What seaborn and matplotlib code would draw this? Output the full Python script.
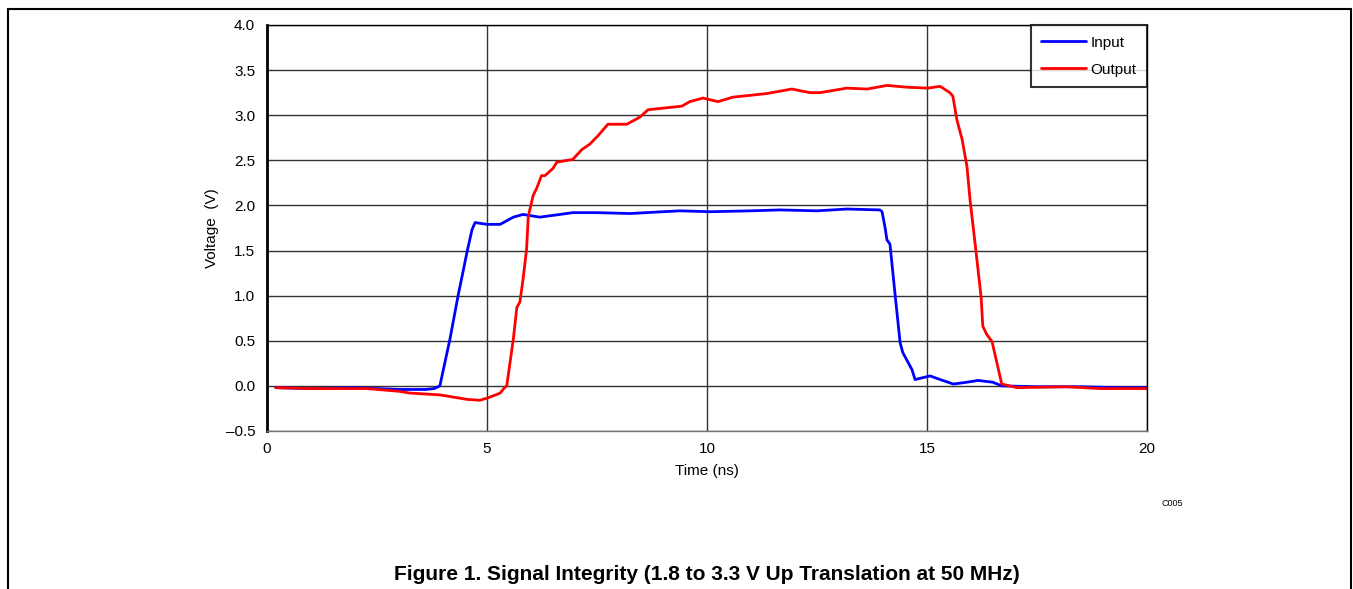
import pandas as pd
import matplotlib.pyplot as plt
import seaborn as sns
from matplotlib.lines import Line2D

# Values (time in ns, voltage in V)
input_t = [0.2, 1.0, 2.0, 3.0, 3.6, 3.8, 3.93, 4.16, 4.34, 4.45, 4.55, 4.66, 4.73,
           5.0, 5.3, 5.6, 5.82, 6.2, 6.66, 6.95, 7.5, 8.25, 9.0, 9.39, 10.07, 11.0,
           11.66, 12.5, 13.18, 13.93, 13.98, 14.05, 14.09, 14.16, 14.27, 14.39, 14.45,
           14.66, 14.73, 15.07, 15.3, 15.6, 15.9, 16.16, 16.5, 16.7, 17.5, 18.5, 19.3, 20.0]
input_v = [-0.02, -0.03, -0.02, -0.04, -0.04, -0.03, 0.0, 0.52, 0.99, 1.25, 1.49, 1.73, 1.81,
           1.79, 1.79, 1.87, 1.90, 1.87, 1.90, 1.92, 1.92, 1.91, 1.93, 1.94, 1.93, 1.94,
           1.95, 1.94, 1.96, 1.95, 1.93, 1.75, 1.62, 1.57, 1.04, 0.48, 0.37,
           0.18, 0.07, 0.11, 0.07, 0.02, 0.04, 0.06, 0.04, 0.0, -0.01, -0.01, -0.02, -0.02]

output_t = [0.2, 1.0, 2.27, 3.0, 3.25, 3.93, 4.55, 4.84, 5.04, 5.3, 5.4, 5.45, 5.6, 5.68,
            5.75, 5.82, 5.9, 5.94, 6.05, 6.13, 6.24, 6.32, 6.5, 6.59, 6.95, 7.16, 7.34,
            7.52, 7.75, 8.18, 8.48, 8.66, 9.23, 9.43, 9.61, 9.91, 10.25, 10.59, 10.98,
            11.36, 11.93, 12.34, 12.57, 13.18, 13.64, 14.09, 14.55, 15.02, 15.3, 15.52,
            15.59, 15.68, 15.8, 15.91, 15.98, 16.11, 16.23, 16.27, 16.36, 16.48, 16.7,
            17.05, 18.18, 18.93, 20.0]
output_v = [-0.02, -0.03, -0.03, -0.06, -0.08, -0.10, -0.15, -0.16, -0.13, -0.08, -0.02, 0.0,
            0.52, 0.87, 0.93, 1.18, 1.51, 1.88, 2.11, 2.19, 2.33, 2.33, 2.41, 2.48, 2.51,
            2.62, 2.68, 2.77, 2.90, 2.90, 2.98, 3.06, 3.09, 3.10, 3.15, 3.19, 3.15, 3.20,
            3.22, 3.24, 3.29, 3.25, 3.25, 3.30, 3.29, 3.33, 3.31, 3.30, 3.32, 3.25, 3.21,
            2.95, 2.73, 2.43, 2.06, 1.51, 0.99, 0.66, 0.57, 0.49, 0.02, -0.02, -0.01,
            -0.03, -0.03]

x_ticks = [0, 5, 10, 15, 20]
y_ticks = [-0.5, 0.0, 0.5, 1.0, 1.5, 2.0, 2.5, 3.0, 3.5, 4.0]

df = pd.concat([
    pd.DataFrame({'Time': input_t, 'Voltage': input_v, 'Signal': 'Input'}),
    pd.DataFrame({'Time': output_t, 'Voltage': output_v, 'Signal': 'Output'}),
])

sns.set_style('white')
plt.rcParams['font.family'] = ['Liberation Sans', 'DejaVu Sans']
plt.rcParams['text.color'] = 'black'
plt.rcParams['axes.labelcolor'] = 'black'
plt.rcParams['xtick.color'] = 'black'
plt.rcParams['ytick.color'] = 'black'

fig = plt.figure(figsize=(13.53, 5.89), dpi=100)
ax = fig.add_axes([0.1973, 0.2683, 0.6504, 0.6893])

sns.lineplot(data=df, x='Time', y='Voltage', hue='Signal', sort=False, estimator=None,
             palette={'Input': '#0000ff', 'Output': '#ff0000'}, linewidth=2, ax=ax)

ax.set_xlim(0, 20)
ax.set_ylim(-0.5, 4.0)
ax.set_xticks(x_ticks)
ax.set_yticks(y_ticks)
ax.set_yticklabels([f'{v:.1f}'.replace('-', '\u2013') for v in y_ticks])
ax.tick_params(length=0, labelsize=11)
ax.tick_params(axis='y', pad=8.5)
ax.tick_params(axis='x', pad=8)
ax.grid(True, color='#333333', linewidth=1)
ax.set_axisbelow(True)
for s in ax.spines.values():
    s.set_color('black')
    s.set_linewidth(1)
ax.spines['left'].set_linewidth(2)
ax.spines['bottom'].set_color('#777777')

ax.set_xlabel('Time (ns)', fontsize=11, labelpad=6)
ax.set_ylabel('Voltage  (V)', fontsize=11, labelpad=5)

leg = ax.legend(loc='upper right', fontsize=11, frameon=True, fancybox=False,
                borderaxespad=0, handlelength=2.9, handletextpad=0.3,
                borderpad=0.7, labelspacing=0.85)
leg.get_frame().set_edgecolor('black')
leg.get_frame().set_linewidth(1.5)

fig.text(0.8663, 0.145, 'C005', fontsize=6.5, ha='center', va='center')
fig.text(0.5225, 0.025, 'Figure 1. Signal Integrity (1.8 to 3.3 V Up Translation at 50 MHz)',
         fontsize=15, fontweight='bold', ha='center', va='center')

# page frame (left, top and right edges)
fig.add_artist(Line2D([8 / 1353, 8 / 1353], [0, 1 - 9 / 589], color='black', linewidth=1.5))
fig.add_artist(Line2D([8 / 1353, 1351 / 1353], [1 - 9 / 589, 1 - 9 / 589], color='black', linewidth=1.5))
fig.add_artist(Line2D([1351 / 1353, 1351 / 1353], [0, 1 - 9 / 589], color='black', linewidth=1.5))

fig.savefig('out.png', dpi=100)
